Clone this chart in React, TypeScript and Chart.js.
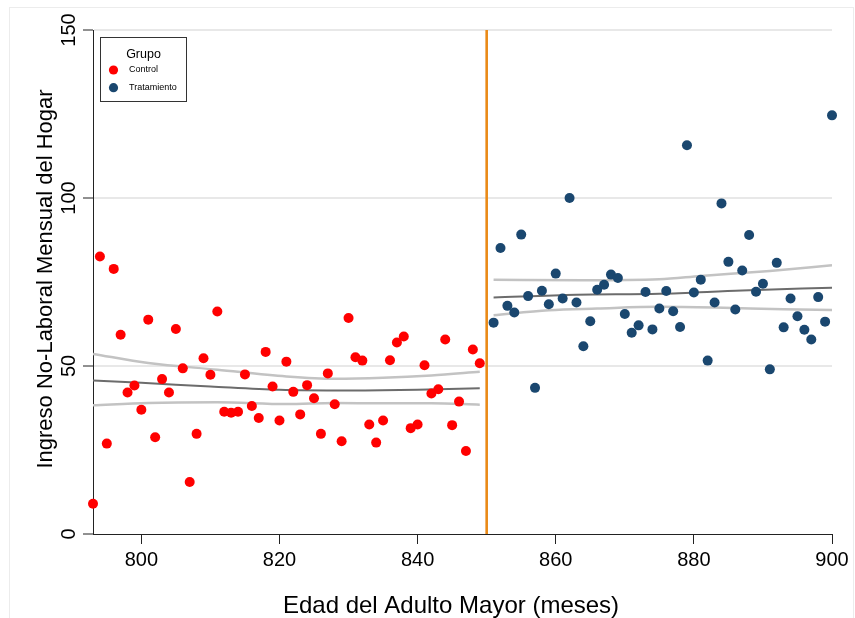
import React, { useEffect, useRef } from 'react';
import { Chart, registerables } from 'chart.js';

Chart.register(...registerables);

const FONT = "'Liberation Sans', Arial, Helvetica, sans-serif";

const controlX = [793, 794, 795, 796, 797, 798, 799, 800, 801, 802, 803, 804, 805, 806, 807, 808, 809, 810, 811, 812, 813, 814, 815, 816, 817, 818, 819, 820, 821, 822, 823, 824, 825, 826, 827, 828, 829, 830, 831, 832, 833, 834, 835, 836, 837, 838, 839, 840, 841, 842, 843, 844, 845, 846, 847, 848, 849];
const controlY = [9.0, 82.6, 26.9, 78.9, 59.3, 42.1, 44.2, 37.0, 63.8, 28.8, 46.1, 42.1, 61.0, 49.3, 15.5, 29.8, 52.3, 47.4, 66.2, 36.4, 36.1, 36.4, 47.5, 38.1, 34.5, 54.2, 43.9, 33.8, 51.3, 42.3, 35.6, 44.3, 40.4, 29.8, 47.8, 38.6, 27.6, 64.3, 52.6, 51.6, 32.6, 27.2, 33.8, 51.7, 57.0, 58.8, 31.5, 32.6, 50.2, 41.8, 43.1, 57.9, 32.4, 39.4, 24.7, 54.9, 50.8];

const treatX = [851, 852, 853, 854, 855, 856, 857, 858, 859, 860, 861, 862, 863, 864, 865, 866, 867, 868, 869, 870, 871, 872, 873, 874, 875, 876, 877, 878, 879, 880, 881, 882, 883, 884, 885, 886, 887, 888, 889, 890, 891, 892, 893, 894, 895, 896, 897, 898, 899, 900];
const treatY = [62.9, 85.1, 67.9, 65.9, 89.1, 70.8, 43.5, 72.4, 68.4, 77.5, 70.1, 100.0, 68.9, 55.9, 63.3, 72.7, 74.2, 77.2, 76.2, 65.5, 59.9, 62.1, 72.0, 60.9, 67.1, 72.3, 66.3, 61.6, 115.7, 71.9, 75.7, 51.6, 68.9, 98.4, 81.0, 66.8, 78.4, 89.0, 72.1, 74.5, 49.0, 80.7, 61.5, 70.1, 64.8, 60.8, 57.9, 70.5, 63.2, 124.6];

// fitted lines and confidence bands
const ctrlFitX = [793, 800, 810, 820, 830, 840, 849];
const ctrlFitY = [45.7, 45.0, 43.9, 42.9, 42.7, 42.9, 43.4];
const ctrlHiX = [793, 801, 811, 821, 828, 835, 842, 849];
const ctrlHiY = [53.6, 50.9, 48.9, 46.9, 46.2, 46.5, 47.2, 48.3];
const ctrlLoX = [793, 801, 811, 821, 828, 835, 842, 849];
const ctrlLoY = [38.3, 39.0, 39.2, 38.7, 39.0, 38.9, 38.9, 38.5];

const trtFitX = [851, 863, 875, 887, 900];
const trtFitY = [70.4, 71.2, 71.5, 72.5, 73.3];
const trtHiX = [851, 864, 875, 881, 891, 900];
const trtHiY = [75.7, 75.5, 75.8, 76.8, 78.3, 80.0];
const trtLoX = [851, 859, 866, 875, 883, 893, 900];
const trtLoY = [65.1, 66.6, 67.1, 67.6, 67.4, 66.9, 66.7];

const cutoff = 850;
const xTicks = [800, 820, 840, 860, 880, 900];
const yTicks = [0, 50, 100, 150];
const xMin = 793;
const xMax = 900;
const yMin = 0;
const yMax = 150;

const xTitle = 'Edad del Adulto Mayor (meses)';
const yTitle = 'Ingreso No-Laboral Mensual del Hogar';
const legendTitle = 'Grupo';
const groupNames = ['Control', 'Tratamiento'];
const groupColors = ['#ff0000', '#1a476f'];

const zip = (xs: number[], ys: number[]) => xs.map((x, i) => ({ x, y: ys[i] }));

const decorPlugin = {
  id: 'decor',
  beforeDraw(chart: any) {
    const ctx = chart.ctx;
    ctx.save();
    ctx.fillStyle = '#ffffff';
    ctx.fillRect(0, 0, chart.width, chart.height);
    ctx.strokeStyle = '#ececec';
    ctx.lineWidth = 1;
    ctx.strokeRect(9.5, 7.5, 844, 640);
    ctx.restore();
  },
  afterDraw(chart: any) {
    const ctx = chart.ctx;
    const ys = chart.scales.y;
    ctx.save();
    // y tick labels (rotated)
    ctx.fillStyle = '#000';
    ctx.font = `20px ${FONT}`;
    ctx.textAlign = 'center';
    ctx.textBaseline = 'alphabetic';
    yTicks.forEach((v) => {
      const py = ys.getPixelForValue(v);
      ctx.save();
      ctx.translate(75, py);
      ctx.rotate(-Math.PI / 2);
      ctx.fillText(String(v), 0, 0);
      ctx.restore();
    });
    // y title
    ctx.font = `22px ${FONT}`;
    ctx.save();
    ctx.translate(52, 279);
    ctx.rotate(-Math.PI / 2);
    ctx.fillText(yTitle, 0, 0);
    ctx.restore();
    // x title
    ctx.font = `24px ${FONT}`;
    ctx.fillText(xTitle, 451, 613);

    // legend
    const lx = 100.5, ly = 37.5, lw = 86, lh = 64;
    ctx.fillStyle = '#ffffff';
    ctx.fillRect(lx, ly, lw, lh);
    ctx.strokeStyle = '#333';
    ctx.lineWidth = 1;
    ctx.strokeRect(lx, ly, lw, lh);
    ctx.fillStyle = '#000';
    ctx.font = `12.5px ${FONT}`;
    ctx.textAlign = 'center';
    ctx.textBaseline = 'middle';
    ctx.fillText(legendTitle, 143.5, 55);
    const rowY = [70, 87.7];
    groupNames.forEach((name, i) => {
      ctx.beginPath();
      ctx.fillStyle = groupColors[i];
      ctx.arc(113.5, rowY[i], 4.6, 0, Math.PI * 2);
      ctx.fill();
      ctx.fillStyle = '#000';
      ctx.font = `9px ${FONT}`;
      ctx.textAlign = 'left';
      ctx.fillText(name, 129, rowY[i]);
    });
    ctx.restore();
  },
};

export default function App() {
  const ref = useRef<HTMLCanvasElement | null>(null);

  useEffect(() => {
    document.body.style.margin = '0';
    const canvas = ref.current;
    if (!canvas) return;

    const ciStyle = {
      type: 'line' as const,
      showLine: true,
      borderColor: '#c3c3c3',
      borderWidth: 2.5,
      pointRadius: 0,
      fill: false,
      cubicInterpolationMode: 'monotone' as const,
      order: 3,
    };
    const fitStyle = {
      type: 'line' as const,
      showLine: true,
      borderColor: '#6c6c6c',
      borderWidth: 2,
      pointRadius: 0,
      fill: false,
      cubicInterpolationMode: 'monotone' as const,
      order: 2,
    };

    const chart = new Chart(canvas, {
      type: 'scatter',
      data: {
        datasets: [
          {
            label: groupNames[0],
            data: zip(controlX, controlY),
            backgroundColor: groupColors[0],
            borderWidth: 0,
            pointRadius: 5,
            clip: false,
            order: 0,
          } as any,
          {
            label: groupNames[1],
            data: zip(treatX, treatY),
            backgroundColor: groupColors[1],
            borderWidth: 0,
            pointRadius: 5,
            clip: false,
            order: 0,
          } as any,
          { ...ciStyle, label: 'ctrl hi', data: zip(ctrlHiX, ctrlHiY) },
          { ...ciStyle, label: 'ctrl lo', data: zip(ctrlLoX, ctrlLoY) },
          { ...fitStyle, label: 'ctrl fit', data: zip(ctrlFitX, ctrlFitY) },
          { ...ciStyle, label: 'trt hi', data: zip(trtHiX, trtHiY) },
          { ...ciStyle, label: 'trt lo', data: zip(trtLoX, trtLoY) },
          { ...fitStyle, label: 'trt fit', data: zip(trtFitX, trtFitY) },
          {
            type: 'line',
            label: 'cutoff',
            data: [
              { x: cutoff, y: yMin },
              { x: cutoff, y: yMax },
            ],
            borderColor: '#ea8a17',
            borderWidth: 2.6,
            pointRadius: 0,
            showLine: true,
            order: 1,
          } as any,
        ],
      },
      options: {
        responsive: false,
        devicePixelRatio: 1,
        animation: false,
        events: [],
        layout: { padding: { top: 30, right: 23, left: 0, bottom: 0 } },
        plugins: {
          legend: { display: false },
          tooltip: { enabled: false },
        },
        scales: {
          x: {
            type: 'linear',
            min: xMin,
            max: xMax,
            afterBuildTicks: (s: any) => {
              s.ticks = xTicks.map((v) => ({ value: v }));
            },
            afterFit: (s: any) => {
              s.height = 84;
            },
            grid: {
              drawOnChartArea: false,
              drawTicks: true,
              tickLength: 10,
              tickColor: '#222',
              tickWidth: 1,
            },
            border: { display: true, color: '#222', width: 1 },
            ticks: {
              autoSkip: false,
              maxRotation: 0,
              minRotation: 0,
              padding: 4,
              color: '#000',
              font: { family: FONT, size: 20 },
            },
          },
          y: {
            type: 'linear',
            min: yMin,
            max: yMax,
            afterBuildTicks: (s: any) => {
              s.ticks = yTicks.map((v) => ({ value: v }));
            },
            afterFit: (s: any) => {
              s.width = 93;
            },
            grid: {
              color: (c: any) => (c.tick && c.tick.value === 0 ? 'rgba(0,0,0,0)' : '#e8e8e8'),
              lineWidth: 2,
              drawTicks: true,
              tickLength: 10,
              tickColor: '#222',
              tickWidth: 1,
            },
            border: { display: true, color: '#222', width: 1 },
            ticks: { display: false },
          },
        },
      },
      plugins: [decorPlugin],
    });

    return () => {
      chart.destroy();
    };
  }, []);

  return (
    <div style={{ width: 855, height: 618 }}>
      <canvas ref={ref} width={855} height={618} style={{ display: 'block' }} />
    </div>
  );
}
